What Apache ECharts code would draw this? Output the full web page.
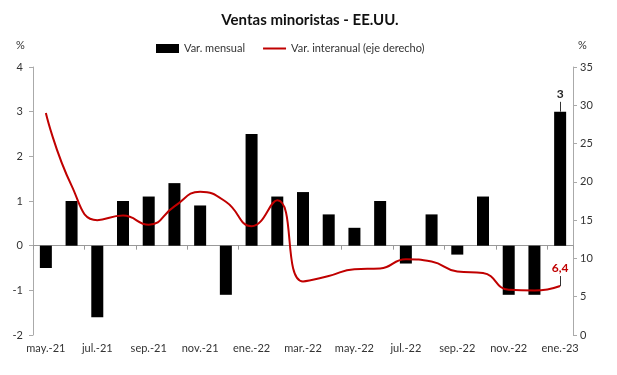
<!DOCTYPE html>
<html><head><meta charset="utf-8">
<script src="https://cdn.jsdelivr.net/npm/echarts@6/dist/echarts.min.js"></script>
<style>html,body{margin:0;padding:0;background:#fff}#c{width:617px;height:375px}</style>
</head><body><div id="c"></div>
<script>
const categories = ['may.-21','jun.-21','jul.-21','ago.-21','sep.-21','oct.-21','nov.-21','dic.-21','ene.-22','feb.-22','mar.-22','abr.-22','may.-22','jun.-22','jul.-22','ago.-22','sep.-22','oct.-22','nov.-22','dic.-22','ene.-23'];
const monthly = [-0.5,1.0,-1.6,1.0,1.1,1.4,0.9,-1.1,2.5,1.1,1.2,0.7,0.4,1.0,-0.4,0.7,-0.2,1.1,-1.1,-1.1,3.0];
const yoy = [29.0,19.5,15.0,15.6,14.4,16.8,18.7,17.4,14.2,17.6,7.0,7.7,8.6,8.7,9.9,9.6,8.3,8.1,5.9,5.8,6.4];
const leftTicks = [-2,4,1];
const rightTicks = [0,35,5];

const font = 'Lato';
const last = categories.length - 1;
const lastCat = categories[last];

const chart = echarts.init(document.getElementById('c'));
chart.setOption({
  animation:false,
  title:{text:'Ventas minoristas - EE.UU.',left:305,textAlign:'center',top:8,textStyle:{fontFamily:font,fontSize:15,fontWeight:'bold',color:'#111'}},
  legend:{left:151,top:38,itemWidth:23,itemHeight:9,itemGap:18,textStyle:{fontFamily:font,fontSize:11,color:'#333'},
    data:[{name:'Var. mensual',icon:'rect'},{name:'Var. interanual (eje derecho)',icon:'path://M0,0 L23,0 L23,2 L0,2 Z',itemStyle:{color:'#c00000'}}]},
  graphic:[
    {type:'text',left:16,top:40,style:{text:'%',font:'11px Lato',fill:'#333'}},
    {type:'text',left:578,top:40,style:{text:'%',font:'11px Lato',fill:'#333'}}
  ],
  grid:{left:33,right:44,top:67,bottom:40},
  xAxis:[
    {type:'category',data:categories,axisLine:{show:false},axisTick:{show:false},
      axisLabel:{interval:1,fontFamily:font,fontSize:11,color:'#333',margin:8}},
    {type:'category',data:categories,position:'bottom',axisLine:{onZero:true,onZeroAxisIndex:0,lineStyle:{color:'#999'}},
      axisTick:{show:true,interval:1,length:4,inside:false,lineStyle:{color:'#999'}},axisLabel:{show:false}}
  ],
  yAxis:[
    {type:'value',min:leftTicks[0],max:leftTicks[1],interval:leftTicks[2],splitLine:{show:false},
      axisLine:{show:true,lineStyle:{color:'#aaa'}},axisTick:{show:true,length:4,lineStyle:{color:'#aaa'}},
      axisLabel:{fontFamily:font,fontSize:11,color:'#333',margin:10}},
    {type:'value',min:rightTicks[0],max:rightTicks[1],interval:rightTicks[2],splitLine:{show:false},position:'right',
      axisLine:{show:true,lineStyle:{color:'#aaa'}},axisTick:{show:true,length:4,lineStyle:{color:'#aaa'}},
      axisLabel:{fontFamily:font,fontSize:11,color:'#333',margin:7}}
  ],
  series:[
    {name:'Var. mensual',type:'bar',data:monthly,barWidth:12,itemStyle:{color:'#000'},xAxisIndex:0,yAxisIndex:0,z:2,
      markLine:{silent:true,symbol:'none',lineStyle:{color:'#333',width:1,type:'solid'},
        label:{show:true,position:'end',formatter:'3',color:'#222',fontWeight:'bold',fontSize:12,fontFamily:font,distance:2},
        data:[[{coord:[lastCat,monthly[last]]},{coord:[lastCat,monthly[last]+0.22]}]]}},
    {name:'Var. interanual (eje derecho)',type:'line',data:yoy,smooth:0.5,symbol:'none',xAxisIndex:0,yAxisIndex:1,
      lineStyle:{color:'#c00000',width:2},itemStyle:{color:'#c00000'},z:3,
      markLine:{silent:true,symbol:'none',lineStyle:{color:'#333',width:1,type:'solid'},
        label:{show:true,position:'end',formatter:'6,4',color:'#c00000',fontWeight:'bold',fontSize:12,fontFamily:font,distance:2},
        data:[[{coord:[lastCat,yoy[last]]},{coord:[lastCat,yoy[last]+1.3]}]]}}
  ]
});
</script></body></html>
